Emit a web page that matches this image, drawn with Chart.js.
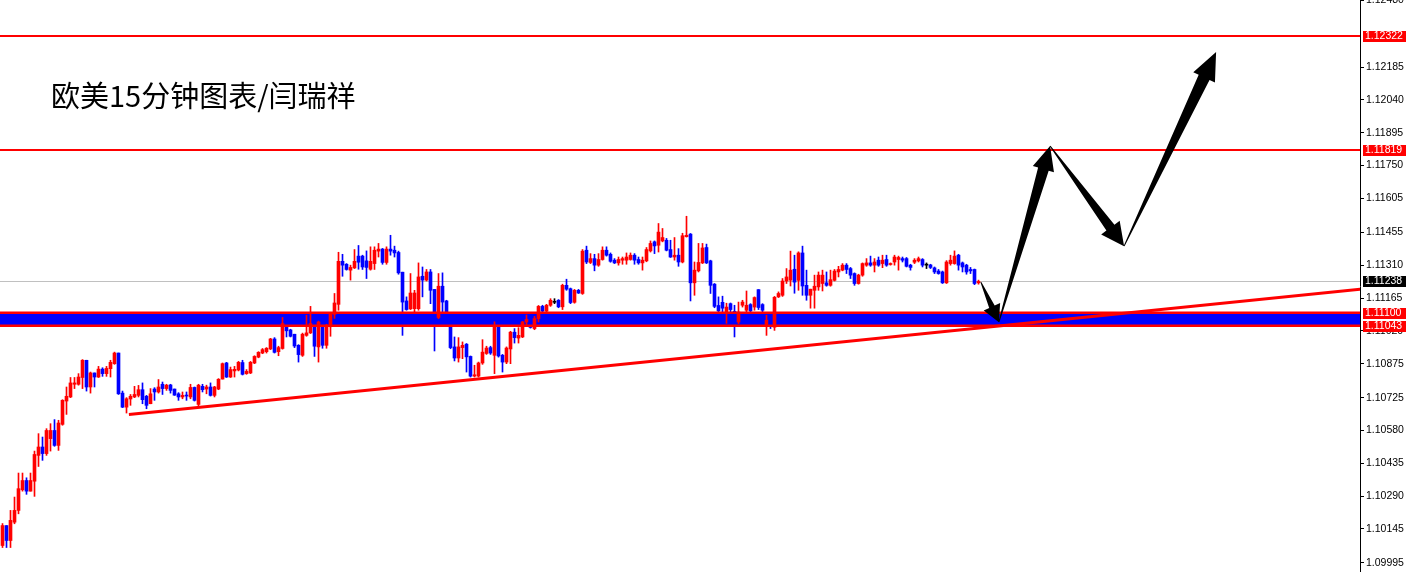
<!DOCTYPE html>
<html><head><meta charset="utf-8">
<script src="https://cdn.jsdelivr.net/npm/chart.js@4.4.1/dist/chart.umd.min.js"></script>
<style>html,body{margin:0;padding:0;background:#fff;overflow:hidden}canvas{display:block}</style>
</head><body>
<canvas id="c" width="1409" height="572"></canvas>
<script>
// ---- DATA (EURUSD M15) ----
const opens = [
1.10072,1.10160,1.10094,1.10175,1.10227,1.10318,1.10359,1.10312,1.10356,1.10470,
1.10507,1.10478,1.10544,1.10580,1.10514,1.10607,1.10710,1.10728,1.10784,1.10784,
1.10814,1.10890,1.10772,1.10834,1.10816,1.10851,1.10831,1.10853,1.10875,1.10922,
1.10745,1.10683,1.10719,1.10728,1.10735,1.10760,1.10731,1.10698,1.10763,1.10750,
1.10784,1.10765,1.10781,1.10763,1.10742,1.10728,1.10735,1.10728,1.10770,1.10695,
1.10775,1.10763,1.10772,1.10735,1.10763,1.10807,1.10878,1.10816,1.10843,1.10847,
1.10880,1.10831,1.10834,1.10878,1.10904,1.10922,1.10928,1.10940,1.10984,1.10928,
1.10942,1.11038,1.11024,1.11005,1.10956,1.10912,1.11000,1.11011,1.11052,1.10949,
1.11044,1.10956,1.11038,1.11093,1.11137,1.11327,1.11314,1.11288,1.11298,1.11350,
1.11350,1.11329,1.11292,1.11317,1.11372,1.11381,1.11322,1.11381,1.11376,1.11366,
1.11279,1.11152,1.11117,1.11118,1.11118,1.11261,1.11244,1.11280,1.11203,1.11079,
1.11217,1.11152,1.11097,1.10949,1.10900,1.10946,1.10961,1.10907,1.10820,1.10820,
1.10878,1.10920,1.10946,1.10912,1.11045,1.10912,1.10882,1.10940,1.11014,1.10988,
1.10993,1.11059,1.11065,1.11030,1.11074,1.11128,1.11107,1.11133,1.11146,1.11155,
1.11126,1.11221,1.11206,1.11146,1.11199,1.11185,1.11376,1.11322,1.11339,1.11310,
1.11335,1.11376,1.11358,1.11332,1.11320,1.11332,1.11332,1.11335,1.11354,1.11335,
1.11320,1.11329,1.11373,1.11413,1.11398,1.11417,1.11420,1.11379,1.11346,1.11354,
1.11324,1.11436,1.11447,1.11232,1.11285,1.11320,1.11388,1.11329,1.11226,1.11132,
1.11146,1.11096,1.11140,1.11106,1.11059,1.11133,1.11111,1.11136,1.11125,1.11202,
1.11136,1.11045,1.11067,1.11036,1.11170,1.11177,1.11240,1.11244,1.11292,1.11243,
1.11364,1.11221,1.11177,1.11199,1.11214,1.11229,1.11232,1.11221,1.11243,1.11280,
1.11288,1.11310,1.11295,1.11273,1.11229,1.11266,1.11310,1.11320,1.11310,1.11332,
1.11317,1.11335,1.11313,1.11324,1.11335,1.11339,1.11339,1.11310,1.11323,1.11329,
1.11335,1.11310,1.11311,1.11298,1.11284,1.11280,1.11232,1.11317,1.11317,1.11354,
1.11320,1.11310,1.11291,1.11291,1.11232];
const highs = [
1.10169,1.10160,1.10227,1.10286,1.10392,1.10392,1.10371,1.10392,1.10489,1.10566,
1.10551,1.10588,1.10610,1.10628,1.10625,1.10716,1.10772,1.10814,1.10814,1.10831,
1.10893,1.10890,1.10838,1.10834,1.10863,1.10857,1.10863,1.10890,1.10926,1.10922,
1.10754,1.10725,1.10739,1.10775,1.10779,1.10790,1.10735,1.10765,1.10769,1.10805,
1.10794,1.10784,1.10784,1.10763,1.10747,1.10750,1.10750,1.10784,1.10772,1.10784,
1.10784,1.10780,1.10790,1.10775,1.10809,1.10878,1.10881,1.10860,1.10863,1.10885,
1.10890,1.10849,1.10885,1.10910,1.10928,1.10942,1.10946,1.10987,1.10990,1.10952,
1.11079,1.11049,1.11027,1.11005,1.10959,1.11010,1.11089,1.11128,1.11052,1.11063,
1.11049,1.11049,1.11100,1.11185,1.11367,1.11358,1.11317,1.11310,1.11379,1.11397,
1.11354,1.11373,1.11391,1.11391,1.11406,1.11384,1.11391,1.11442,1.11394,1.11372,
1.11279,1.11170,1.11273,1.11199,1.11320,1.11302,1.11291,1.11291,1.11203,1.11273,
1.11276,1.11155,1.11100,1.10993,1.10990,1.10971,1.10964,1.10909,1.10868,1.10882,
1.10981,1.10952,1.10952,1.11060,1.11060,1.10916,1.10949,1.11018,1.11030,1.11034,
1.11062,1.11090,1.11075,1.11084,1.11132,1.11133,1.11137,1.11162,1.11162,1.11158,
1.11226,1.11248,1.11209,1.11203,1.11203,1.11379,1.11394,1.11361,1.11358,1.11361,
1.11391,1.11391,1.11364,1.11339,1.11346,1.11346,1.11364,1.11364,1.11361,1.11346,
1.11346,1.11388,1.11417,1.11417,1.11494,1.11472,1.11428,1.11420,1.11432,1.11383,
1.11451,1.11526,1.11450,1.11324,1.11406,1.11406,1.11403,1.11332,1.11229,1.11170,
1.11173,1.11142,1.11143,1.11133,1.11147,1.11155,1.11196,1.11140,1.11170,1.11202,
1.11140,1.11089,1.11075,1.11172,1.11192,1.11251,1.11295,1.11372,1.11354,1.11369,
1.11394,1.11288,1.11204,1.11266,1.11280,1.11288,1.11280,1.11288,1.11291,1.11305,
1.11317,1.11317,1.11300,1.11276,1.11270,1.11320,1.11339,1.11350,1.11339,1.11346,
1.11354,1.11354,1.11320,1.11354,1.11350,1.11346,1.11344,1.11314,1.11339,1.11346,
1.11339,1.11320,1.11314,1.11302,1.11291,1.11284,1.11330,1.11354,1.11373,1.11358,
1.11324,1.11314,1.11300,1.11293,1.11244];
const lows = [
1.10063,1.10063,1.10063,1.10168,1.10212,1.10312,1.10298,1.10312,1.10289,1.10421,
1.10448,1.10470,1.10489,1.10510,1.10492,1.10603,1.10651,1.10725,1.10765,1.10780,
1.10765,1.10754,1.10745,1.10772,1.10814,1.10819,1.10819,1.10816,1.10872,1.10739,
1.10681,1.10657,1.10691,1.10725,1.10728,1.10698,1.10676,1.10698,1.10713,1.10745,
1.10739,1.10757,1.10745,1.10735,1.10713,1.10720,1.10713,1.10720,1.10710,1.10682,
1.10750,1.10742,1.10732,1.10728,1.10760,1.10807,1.10814,1.10814,1.10816,1.10843,
1.10825,1.10828,1.10831,1.10875,1.10901,1.10919,1.10922,1.10937,1.10922,1.10910,
1.10939,1.10993,1.10993,1.10946,1.10882,1.10907,1.10996,1.11008,1.10907,1.10882,
1.10943,1.10943,1.10996,1.11075,1.11111,1.11261,1.11288,1.11244,1.11295,1.11292,
1.11291,1.11251,1.11288,1.11291,1.11346,1.11314,1.11314,1.11354,1.11346,1.11270,
1.11000,1.11111,1.11114,1.11103,1.11111,1.11170,1.11240,1.11140,1.10931,1.11074,
1.11103,1.11093,1.10941,1.10887,1.10882,1.10897,1.10838,1.10816,1.10816,1.10816,
1.10872,1.10916,1.10916,1.10831,1.10904,1.10838,1.10875,1.10875,1.10966,1.10966,
1.10990,1.11040,1.11032,1.11025,1.11059,1.11103,1.11103,1.11128,1.11140,1.11122,
1.11114,1.11199,1.11140,1.11142,1.11185,1.11181,1.11317,1.11317,1.11285,1.11305,
1.11332,1.11350,1.11323,1.11317,1.11310,1.11314,1.11314,1.11332,1.11314,1.11314,
1.11288,1.11325,1.11368,1.11361,1.11368,1.11413,1.11373,1.11344,1.11332,1.11305,
1.11320,1.11434,1.11152,1.11177,1.11280,1.11317,1.11317,1.11185,1.11122,1.11089,
1.11102,1.11053,1.11103,1.10993,1.11052,1.11125,1.11103,1.11103,1.11111,1.11114,
1.11103,1.11000,1.11030,1.11022,1.11167,1.11172,1.11229,1.11218,1.11186,1.11199,
1.11177,1.11155,1.11120,1.11120,1.11199,1.11196,1.11217,1.11217,1.11240,1.11258,
1.11285,1.11273,1.11251,1.11221,1.11226,1.11261,1.11305,1.11305,1.11280,1.11305,
1.11299,1.11305,1.11310,1.11310,1.11288,1.11324,1.11302,1.11288,1.11317,1.11324,
1.11302,1.11295,1.11295,1.11273,1.11270,1.11229,1.11229,1.11310,1.11314,1.11288,
1.11280,1.11270,1.11273,1.11224,1.11226];
const closes = [
1.10160,1.10094,1.10183,1.10227,1.10323,1.10359,1.10312,1.10359,1.10474,1.10507,
1.10478,1.10580,1.10580,1.10514,1.10613,1.10713,1.10731,1.10790,1.10790,1.10816,
1.10890,1.10772,1.10834,1.10816,1.10851,1.10831,1.10854,1.10881,1.10922,1.10742,
1.10683,1.10720,1.10731,1.10739,1.10760,1.10716,1.10691,1.10742,1.10750,1.10772,
1.10765,1.10780,1.10757,1.10736,1.10728,1.10735,1.10732,1.10770,1.10713,1.10780,
1.10760,1.10772,1.10735,1.10772,1.10806,1.10875,1.10816,1.10849,1.10850,1.10881,
1.10828,1.10841,1.10881,1.10907,1.10925,1.10937,1.10943,1.10984,1.10925,1.10946,
1.11052,1.11020,1.10996,1.10953,1.10915,1.11005,1.11011,1.11052,1.10952,1.11059,
1.10956,1.11044,1.11097,1.11143,1.11327,1.11310,1.11291,1.11300,1.11327,1.11323,
1.11302,1.11300,1.11327,1.11376,1.11381,1.11322,1.11381,1.11372,1.11364,1.11276,
1.11147,1.11114,1.11187,1.11187,1.11258,1.11244,1.11280,1.11199,1.11097,1.11217,
1.11147,1.11097,1.10946,1.10900,1.10949,1.10956,1.10905,1.10820,1.10826,1.10878,
1.10926,1.10944,1.10922,1.11045,1.10909,1.10882,1.10944,1.11014,1.10990,1.11000,
1.11059,1.11070,1.11035,1.11074,1.11128,1.11107,1.11133,1.11155,1.11146,1.11126,
1.11221,1.11204,1.11145,1.11199,1.11187,1.11372,1.11324,1.11339,1.11310,1.11335,
1.11376,1.11354,1.11327,1.11320,1.11335,1.11339,1.11346,1.11354,1.11332,1.11320,
1.11332,1.11379,1.11406,1.11395,1.11456,1.11432,1.11376,1.11346,1.11354,1.11324,
1.11440,1.11442,1.11232,1.11288,1.11322,1.11386,1.11320,1.11221,1.11128,1.11108,
1.11120,1.11125,1.11114,1.11058,1.11103,1.11147,1.11133,1.11108,1.11167,1.11123,
1.11111,1.11067,1.11045,1.11168,1.11185,1.11240,1.11258,1.11288,1.11235,1.11364,
1.11218,1.11177,1.11204,1.11217,1.11266,1.11266,1.11221,1.11246,1.11284,1.11291,
1.11310,1.11291,1.11266,1.11229,1.11266,1.11317,1.11320,1.11310,1.11324,1.11310,
1.11332,1.11310,1.11317,1.11346,1.11344,1.11332,1.11305,1.11300,1.11332,1.11339,
1.11310,1.11310,1.11300,1.11280,1.11273,1.11232,1.11324,1.11332,1.11350,1.11310,
1.11302,1.11280,1.11285,1.11229,1.11238];

const tickValues = [1.12480,1.12185,1.12040,1.11895,1.11750,1.11605,1.11455,1.11310,1.11165,
  1.11020,1.10875,1.10725,1.10580,1.10435,1.10290,1.10145,1.09995];
const priceMin = 1.09955, priceMax = 1.12481;
const slotCount = 340;                       // bars visible across the window
const levelLines = [1.12322, 1.11819];       // red horizontal lines
const bandTop = 1.11100, bandBottom = 1.11043;
const currentPrice = 1.11238;
const trendPoints = [[31.6, 1.10651], [339.4, 1.11204]];   // [bar index, price]
const arrowPath = [[244.6, 1.11235], [249.1, 1.11058], [261.9, 1.11836], [280.4, 1.11394], [303.4, 1.12251]];
const axisBoxes = [[1.12322,'#ff0000'],[1.11819,'#ff0000'],[1.11238,'#000000'],[1.11100,'#ff0000'],[1.11043,'#ff0000']];
const titleText = '欧美15分钟图表/闫瑞祥';

// ---- styles ----
const UP = '#ff0000', DOWN = '#0000ff', DOJI = '#000000';
const arrowStyles = [
  {head: 17, wing: 9, shaft: 3, tail: 0.5},
  {head: 24, wing: 11, shaft: 5.5, tail: 0.5},
  {head: 23, wing: 11.5, shaft: 5, tail: 0.5},
  {head: 28, wing: 12, shaft: 6, tail: 0.5}
];
const AXIS_FONT = '"Liberation Sans", Arial, sans-serif';

const colors = opens.map((o, i) => closes[i] > o ? UP : (closes[i] < o ? DOWN : DOJI));
const bodies = opens.map((o, i) => ({x: i, y: [Math.min(o, closes[i]), Math.max(o, closes[i])]}));
const wicks = opens.map((o, i) => ({x: i, y: [lows[i], highs[i]]}));

function drawArrow(ctx, T, P, s) {
  const dx = P.x - T.x, dy = P.y - T.y, len = Math.hypot(dx, dy);
  const ux = dx / len, uy = dy / len, nx = -uy, ny = ux;
  const bx = P.x - ux * s.head, by = P.y - uy * s.head;
  ctx.beginPath();
  ctx.moveTo(T.x + nx * s.tail, T.y + ny * s.tail);
  ctx.lineTo(bx + nx * s.shaft, by + ny * s.shaft);
  ctx.lineTo(bx + nx * s.wing, by + ny * s.wing);
  ctx.lineTo(P.x, P.y);
  ctx.lineTo(bx - nx * s.wing, by - ny * s.wing);
  ctx.lineTo(bx - nx * s.shaft, by - ny * s.shaft);
  ctx.lineTo(T.x - nx * s.tail, T.y - ny * s.tail);
  ctx.closePath();
  ctx.fill();
}

const overlay = {
  id: 'overlay',
  beforeDatasetsDraw(chart) {
    const {ctx, chartArea: a, scales: {y}} = chart;
    ctx.save();
    const yc = Math.round(y.getPixelForValue(currentPrice)) + 0.5;
    ctx.strokeStyle = '#c0c0c0'; ctx.lineWidth = 1;
    ctx.beginPath(); ctx.moveTo(a.left, yc); ctx.lineTo(a.right, yc); ctx.stroke();
    const yt = y.getPixelForValue(bandTop), yb = y.getPixelForValue(bandBottom);
    ctx.fillStyle = '#0000ff';
    ctx.fillRect(a.left, yt, a.right - a.left, yb - yt);
    ctx.restore();
  },
  afterDatasetsDraw(chart) {
    const {ctx, chartArea: a, scales: {x, y}} = chart;
    ctx.save();
    ctx.beginPath(); ctx.rect(a.left, a.top, a.right - a.left, a.bottom - a.top); ctx.clip();
    ctx.strokeStyle = '#ff0000';
    ctx.lineWidth = 2;
    levelLines.forEach(v => {
      const p = Math.round(y.getPixelForValue(v));
      ctx.beginPath(); ctx.moveTo(a.left, p); ctx.lineTo(a.right, p); ctx.stroke();
    });
    ctx.lineWidth = 2.5;
    [bandTop, bandBottom].forEach(v => {
      const p = y.getPixelForValue(v);
      ctx.beginPath(); ctx.moveTo(a.left, p); ctx.lineTo(a.right, p); ctx.stroke();
    });
    // trend line
    ctx.lineWidth = 3;
    ctx.beginPath();
    ctx.moveTo(x.getPixelForValue(trendPoints[0][0]), y.getPixelForValue(trendPoints[0][1]));
    ctx.lineTo(x.getPixelForValue(trendPoints[1][0]), y.getPixelForValue(trendPoints[1][1]));
    ctx.stroke();
    // arrows
    ctx.fillStyle = '#000';
    for (let k = 0; k < arrowPath.length - 1; k++) {
      const T = {x: x.getPixelForValue(arrowPath[k][0]), y: y.getPixelForValue(arrowPath[k][1])};
      const P = {x: x.getPixelForValue(arrowPath[k + 1][0]), y: y.getPixelForValue(arrowPath[k + 1][1])};
      drawArrow(ctx, T, P, arrowStyles[k]);
    }
    // title
    ctx.fillStyle = '#000';
    ctx.font = '29px "Noto Sans CJK SC", sans-serif';
    ctx.textBaseline = 'middle';
    ctx.textAlign = 'left';
    ctx.fillText(titleText, 51, 96);
    ctx.restore();
  },
  afterDraw(chart) {
    const {ctx, scales: {y}} = chart;
    ctx.save();
    ctx.font = '10.5px ' + AXIS_FONT;
    ctx.textBaseline = 'middle';
    ctx.textAlign = 'left';
    axisBoxes.forEach(([v, col]) => {
      const p = Math.round(y.getPixelForValue(v));
      ctx.fillStyle = col;
      ctx.fillRect(y.left + 3, p - 5, 43, 11);
      ctx.fillStyle = '#fff';
      ctx.fillText(v.toFixed(5), y.left + 5, p + 0.5);
    });
    ctx.restore();
  }
};

new Chart(document.getElementById('c'), {
  type: 'bar',
  data: {
    datasets: [
      {label: 'body', data: bodies, backgroundColor: colors, barThickness: 3, minBarLength: 1,
       grouped: false, borderWidth: 0, order: 0},
      {label: 'wick', data: wicks, backgroundColor: colors, barThickness: 1,
       grouped: false, borderWidth: 0, order: 1}
    ]
  },
  options: {
    responsive: false,
    devicePixelRatio: 1,
    animation: false,
    layout: {padding: 0},
    plugins: {legend: {display: false}, tooltip: {enabled: false}, title: {display: false}},
    scales: {
      x: {type: 'linear', min: -0.625, max: slotCount - 0.625, display: false, offset: false},
      y: {
        position: 'right', min: priceMin, max: priceMax,
        afterBuildTicks: s => { s.ticks = tickValues.map(v => ({value: v})); },
        afterFit: s => { s.width = 49; s.paddingTop = 0; s.paddingBottom = 0; },
        grid: {drawOnChartArea: false, drawTicks: true, tickLength: 4, tickColor: '#000', color: '#000'},
        border: {display: true, color: '#000', width: 1},
        ticks: {
          padding: 2, color: '#000', autoSkip: false,
          font: {family: 'Liberation Sans', size: 10.5},
          callback: v => Number(v).toFixed(5)
        }
      }
    }
  },
  plugins: [overlay]
});
</script>
</body></html>
